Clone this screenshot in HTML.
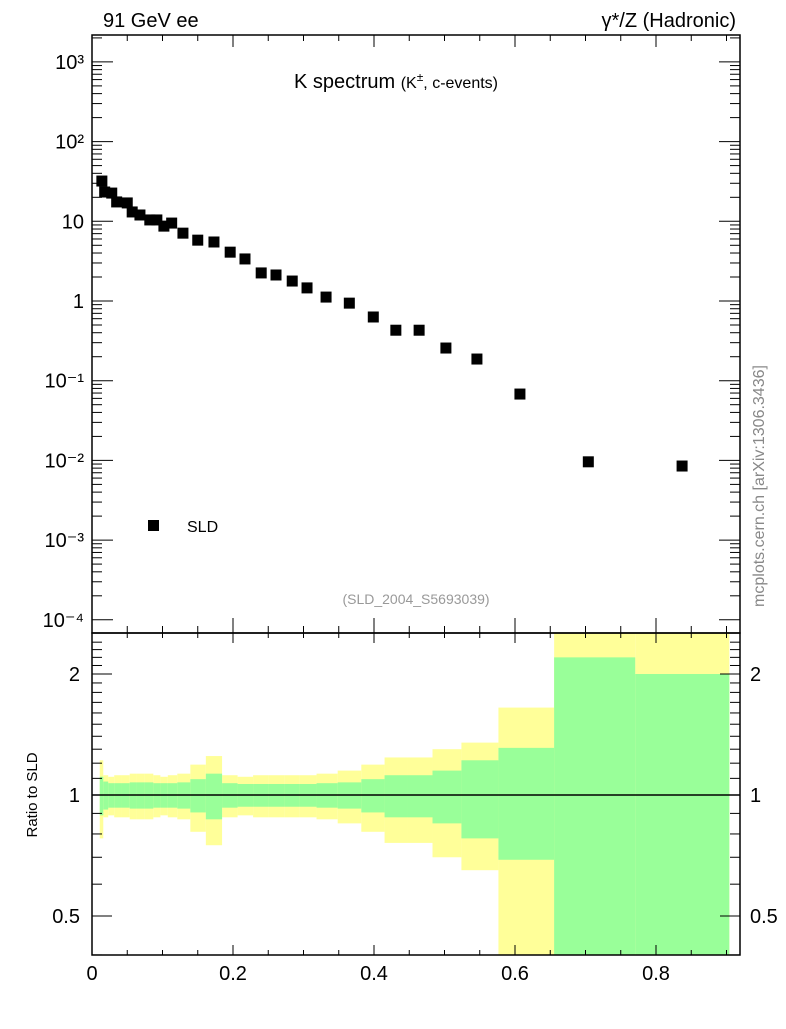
<!DOCTYPE html>
<html><head><meta charset="utf-8"><style>
body{margin:0;background:#fff;position:relative}
svg text{font-family:"Liberation Sans",sans-serif}
</style></head><body>
<svg id="c" width="786" height="1024" xmlns="http://www.w3.org/2000/svg"></svg>
<script>
const xVals=[0.014,0.018,0.028,0.035,0.050,0.057,0.068,0.082,0.092,0.102,0.113,0.129,0.150,0.173,0.196,0.217,0.240,0.261,0.284,0.305,0.332,0.365,0.399,0.431,0.464,0.502,0.546,0.607,0.704,0.837];
const yVals=[32,23.3,22.6,17.5,17.0,13.1,12.0,10.4,10.4,8.7,9.5,7.1,5.8,5.5,4.1,3.37,2.25,2.12,1.78,1.46,1.12,0.94,0.63,0.43,0.43,0.257,0.187,0.068,0.0096,0.0085];
const statErr=[0.11,0.08,0.07,0.07,0.07,0.075,0.075,0.075,0.07,0.07,0.07,0.075,0.095,0.13,0.07,0.065,0.065,0.065,0.065,0.065,0.07,0.075,0.095,0.12,0.12,0.15,0.22,0.31,1.2,1.0];
const totErr=[0.22,0.12,0.11,0.12,0.12,0.13,0.13,0.13,0.12,0.11,0.12,0.13,0.19,0.25,0.12,0.11,0.12,0.12,0.12,0.12,0.13,0.15,0.19,0.24,0.24,0.3,0.35,0.65,2,2];
const xTicks=[0,0.2,0.4,0.6,0.8];
const yTickLabels=["10⁻⁴","10⁻³","10⁻²","10⁻¹","1","10","10²","10³"];
const rTicks=[0.5,1,2];

const NS="http://www.w3.org/2000/svg",S=document.getElementById('c');
function el(t,a,p){const e=document.createElementNS(NS,t);for(const k in a)e.setAttribute(k,a[k]);(p||S).appendChild(e);return e;}
const L=92,R=740,T=35,M=633,B=955;
const X=v=>L+v*705;
const Y=v=>301-Math.log10(v)*79.7;
const RY=v=>Math.min(B,Math.max(M,795-Math.log2(Math.max(v,1e-6))*121));

const gBand=el('g',{});
const edges=[0.011];for(let i=0;i<xVals.length-1;i++)edges.push((xVals[i]+xVals[i+1])/2);edges.push(0.904);
for(let i=0;i<xVals.length;i++){
 const x0=X(edges[i]),x1=X(edges[i+1]);
 const y1=RY(1+totErr[i]),y2=RY(1-totErr[i]);
 const r=el('rect',{x:x0,y:y1,width:x1-x0,height:y2-y1,fill:'#ffff99'},gBand);
 
}
for(let i=0;i<xVals.length;i++){
 const x0=X(edges[i]),x1=X(edges[i+1]);
 const y1=RY(1+statErr[i]),y2=RY(1-statErr[i]);
 const r=el('rect',{x:x0,y:y1,width:x1-x0,height:y2-y1,fill:'#99ff99'},gBand);
 
}
const ref=el('line',{x1:L,x2:R,y1:795,y2:795,stroke:'#000','stroke-width':1.5});


for(const [y0,y1,n] of [[T,M,'main-plot-frame'],[M,B,'ratio-plot-frame']]){
 const f=el('rect',{x:L,y:y0,width:R-L,height:y1-y0,fill:'none',stroke:'#000','stroke-width':1.5});
 
}
for(let d=-4;d<=3;d++){
 for(let m=1;m<10;m++){
  const v=m*Math.pow(10,d),y=Y(v);if(y<T||y>M)continue;
  const len=m==1?21:10;
  el('line',{x1:L,x2:L+len,y1:y,y2:y,stroke:'#000'});el('line',{x1:R,x2:R-len,y1:y,y2:y,stroke:'#000'});
 }
 const t=el('text',{x:84,y:Y(Math.pow(10,d))+7,'font-size':20,'text-anchor':'end'});t.textContent=yTickLabels[d+4];
 
}
for(let k=0;k<=18;k++){
 const v=k*0.05,x=X(v),maj=k%4==0;
 el('line',{x1:x,x2:x,y1:B,y2:B-(maj?10:5),stroke:'#000'});
 el('line',{x1:x,x2:x,y1:M,y2:M-(maj?15:7),stroke:'#000'});
 el('line',{x1:x,x2:x,y1:M,y2:M+(maj?10:5),stroke:'#000'});
 el('line',{x1:x,x2:x,y1:T,y2:T+(maj?12:6),stroke:'#000'});
}
xTicks.forEach(v=>{const t=el('text',{x:X(v),y:980,'font-size':20,'text-anchor':'middle'});t.textContent=v==0?'0':v.toFixed(1);
 });
for(let v=0.4;v<=2.5;v+=0.1){const y=RY(v);if(y<=M||y>=B)continue;
 const maj=[0.5,1,2].some(m=>Math.abs(m-v)<1e-6);const len=maj?20:10;
 el('line',{x1:L,x2:L+len,y1:y,y2:y,stroke:'#000'});el('line',{x1:R,x2:R-len,y1:y,y2:y,stroke:'#000'});}
rTicks.forEach(v=>{const l=v==0.5?'0.5':String(v);
 const t=el('text',{x:80,y:RY(v)+7,'font-size':20,'text-anchor':'end'});t.textContent=l;
 
 const t2=el('text',{x:750,y:RY(v)+7,'font-size':20});t2.textContent=l;
 });
xVals.forEach((v,i)=>{const r=el('rect',{x:X(v)-5.5,y:Y(yVals[i])-5.5,width:11,height:11,fill:'#000'});
 });
</script>
<svg width="786" height="1024" style="position:absolute;left:0;top:0" xmlns="http://www.w3.org/2000/svg">
<text x="103" y="27" font-size="20" font-family="Liberation Sans">91 GeV ee</text>
<text x="736" y="27" font-size="20" font-family="Liberation Sans" text-anchor="end">γ*/Z (Hadronic)</text>
<text x="294" y="88" font-size="20" font-family="Liberation Sans">K spectrum <tspan font-size="16">(K<tspan dy="-7" font-size="12">±</tspan><tspan dy="7">, c-events)</tspan></tspan></text>
<rect x="148" y="520" width="11" height="11" fill="#000"/>
<text x="187" y="532" font-size="16" font-family="Liberation Sans">SLD</text>
<text x="416" y="604" font-size="14" font-family="Liberation Sans" fill="#999" text-anchor="middle">(SLD_2004_S5693039)</text>
<text transform="translate(764,486) rotate(-90)" font-size="16" font-family="Liberation Sans" fill="#888" text-anchor="middle">mcplots.cern.ch [arXiv:1306.3436]</text>
<text transform="translate(37,795) rotate(-90)" font-size="15" font-family="Liberation Sans" text-anchor="middle">Ratio to SLD</text>
</svg>
</body></html>
